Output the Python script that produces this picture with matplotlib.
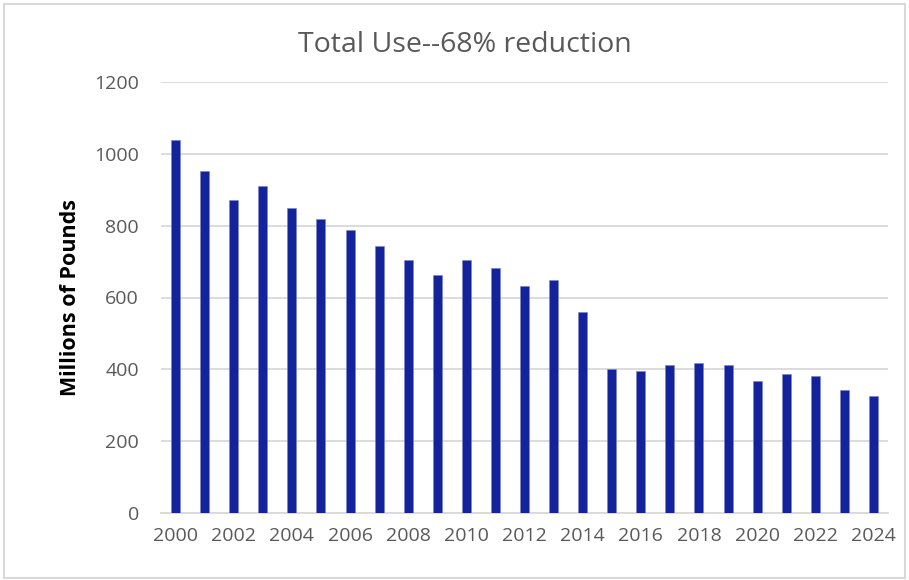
import matplotlib
matplotlib.use("Agg")
import matplotlib.pyplot as plt
from matplotlib.patches import Rectangle

years = list(range(2000, 2025))
pounds = [1039, 953, 871, 910, 849, 818, 789, 743, 704, 664, 704, 682,
          631, 649, 560, 400, 396, 413, 417, 413, 367, 388, 381, 342, 327]
yticks = [0, 200, 400, 600, 800, 1000, 1200]

plt.rcParams['font.family'] = ['Open Sans', 'DejaVu Sans']

fig = plt.figure(figsize=(9.09, 5.80), dpi=100)
ax = fig.add_axes([161/909, 1 - 513/580, 727/909, 431/580])

x = list(range(len(years)))
ax.bar(x, pounds, width=0.31, color='#13239b', edgecolor='#7a83c8', linewidth=0.4, zorder=3)

ax.set_xlim(-0.5, len(years) - 0.5)
ax.set_ylim(0, 1200)
ax.set_yticks(yticks)
ax.set_yticklabels([str(v) for v in yticks])
ax.set_xticks(x[::2])
ax.set_xticklabels([str(y) for y in years[::2]])
ax.tick_params(axis='both', length=0, colors='#595959', labelsize=14)
ax.tick_params(axis='x', pad=10)
ax.tick_params(axis='y', pad=16)

ax.grid(axis='y', color='#d9d9d9', linewidth=1.3, zorder=0)
for s in ['top', 'right', 'left']:
    ax.spines[s].set_visible(False)
ax.spines['bottom'].set_color('#d9d9d9')
ax.spines['bottom'].set_linewidth(1.3)

ax.set_ylabel('Millions of Pounds', fontsize=15.5, fontweight='bold', color='black', labelpad=9)
fig.text(0.511, 1 - 45/580, 'Total Use--68% reduction', ha='center', va='center',
         fontsize=20.5, color='#595959')

fig.patches.append(Rectangle((4/909, 2/580), 901/909, 574/580, transform=fig.transFigure,
                             fill=False, edgecolor='#d9d9d9', linewidth=1.5))

fig.savefig('out.png', dpi=100)
